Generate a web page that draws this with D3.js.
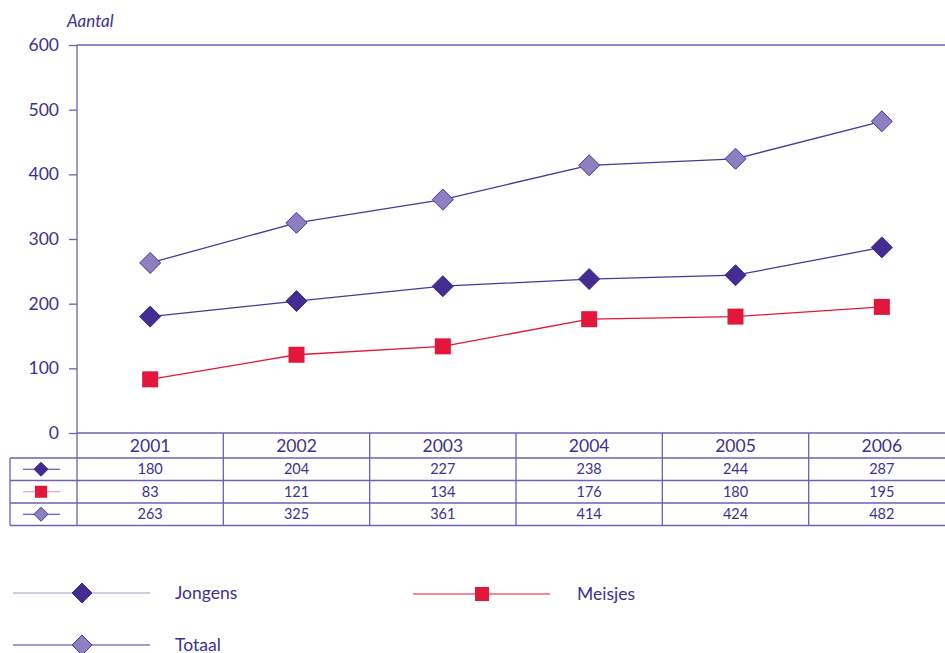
<!DOCTYPE html>
<html>
<head>
<meta charset="utf-8">
<script src="https://cdn.jsdelivr.net/npm/d3@7"></script>
<style>
  html, body { margin: 0; padding: 0; background: #fff; }
  svg { display: block; font-family: Lato, "Open Sans", sans-serif; }
</style>
</head>
<body>
<svg id="chart" width="945" height="653"></svg>
<script>
// Aantal per jaar
const years = ["2001", "2002", "2003", "2004", "2005", "2006"];
const jongens = [180, 204, 227, 238, 244, 287];
const meisjes = [83, 121, 134, 176, 180, 195];
const totaal = [263, 325, 361, 414, 424, 482];
const yTicks = [0, 100, 200, 300, 400, 500, 600];

const ink = "#40308f";
const gridInk = "#6f5fb5";
const red = "#e3173a";

const series = [
  { name: "Jongens", values: jongens, shape: "diamond", fill: "#452c92", stroke: "#3d2a8a", line: "#4a36a0", legendLine: "#a597cf" },
  { name: "Meisjes", values: meisjes, shape: "square", fill: red, stroke: red, line: red, legendLine: red },
  { name: "Totaal", values: totaal, shape: "diamond", fill: "#8e7fc0", stroke: "#4a36a0", line: "#4a36a0", legendLine: "#4a36a0" }
];

const svg = d3.select("#chart");
const plotLeft = 77, plotTop = 45, plotBottom = 433, plotRight = 955;

const x = d3.scaleBand().domain(years).range([plotLeft, plotRight]);
const y = d3.scaleLinear().domain([0, 600]).range([plotBottom, plotTop]);

// y axis
const yAxis = svg.append("g")
  .attr("transform", `translate(${plotLeft},0)`)
  .call(d3.axisLeft(y).tickValues(yTicks).tickSize(8).tickPadding(10));
yAxis.select(".domain").attr("stroke", gridInk).attr("stroke-width", 1.3).attr("d", `M0,${plotTop}V${plotBottom}`);
yAxis.selectAll(".tick line").attr("stroke", gridInk).attr("stroke-width", 1.3);
yAxis.selectAll(".tick text").attr("fill", ink).attr("font-size", 17.5).attr("font-family", "Lato, sans-serif");

// top frame line
svg.append("line").attr("x1", plotLeft).attr("x2", 945).attr("y1", y(600)).attr("y2", y(600))
  .attr("stroke", gridInk).attr("stroke-width", 1.3);

svg.append("text").attr("x", 67).attr("y", 27).attr("fill", ink)
  .attr("font-size", 17).attr("font-style", "italic").text("Aantal");

// markers
function marker(g, shape, cx, cy, s, fill, stroke) {
  if (shape === "diamond") {
    const r = s / 2;
    g.append("path").attr("d", `M${cx},${cy - r}L${cx + r},${cy}L${cx},${cy + r}L${cx - r},${cy}Z`)
      .attr("fill", fill).attr("stroke", stroke).attr("stroke-width", 1);
  } else {
    g.append("rect").attr("x", cx - s / 2).attr("y", cy - s / 2).attr("width", s).attr("height", s)
      .attr("fill", fill);
  }
}

const line = d3.line().x((d, i) => x(years[i]) + x.bandwidth() / 2).y(d => y(d));
const plot = svg.append("g");
series.forEach(s => {
  plot.append("path").datum(s.values).attr("d", line)
    .attr("fill", "none").attr("stroke", s.line).attr("stroke-width", 1.3);
});
series.forEach(s => {
  s.values.forEach((v, i) => {
    marker(plot, s.shape, x(years[i]) + x.bandwidth() / 2, y(v), s.shape === "diamond" ? 21 : 16, s.fill, s.stroke);
  });
});

// data table
const rowsY = [433, 458, 480.5, 503, 525.5];
const tableLeft = 10;
const tg = svg.append("g").attr("stroke", gridInk).attr("stroke-width", 1.3);
tg.append("line").attr("x1", plotLeft).attr("x2", 945).attr("y1", rowsY[0]).attr("y2", rowsY[0]);
for (let r = 1; r < rowsY.length; r++) {
  tg.append("line").attr("x1", tableLeft).attr("x2", 945).attr("y1", rowsY[r]).attr("y2", rowsY[r]);
}
tg.append("line").attr("x1", tableLeft).attr("x2", tableLeft).attr("y1", rowsY[1]).attr("y2", rowsY[4]);
years.forEach(yr => {
  tg.append("line").attr("x1", x(yr)).attr("x2", x(yr)).attr("y1", rowsY[0]).attr("y2", rowsY[4]);
});

svg.append("g").selectAll("text").data(years).join("text")
  .attr("x", d => x(d) + x.bandwidth() / 2).attr("y", 452)
  .attr("text-anchor", "middle").attr("fill", ink).attr("font-size", 17.5).text(d => d);

series.forEach((s, r) => {
  const cy = (rowsY[r + 1] + rowsY[r + 2]) / 2;
  svg.append("line").attr("x1", 23).attr("x2", 60).attr("y1", cy).attr("y2", cy)
    .attr("stroke", s.shape === "square" ? "#ef8a9b" : s.line).attr("stroke-width", 1.2);
  marker(svg, s.shape, 41, cy, s.shape === "diamond" ? 14 : 12, s.fill, s.stroke);
  svg.append("g").selectAll("text").data(s.values).join("text")
    .attr("x", (d, i) => x(years[i]) + x.bandwidth() / 2).attr("y", cy + 5)
    .attr("text-anchor", "middle").attr("fill", ink).attr("font-size", 14.5).text(d => d);
});

// legend
const legendPos = [
  { x1: 13, x2: 150, mx: 82, y: 593, tx: 175 },
  { x1: 413, x2: 550, mx: 482, y: 594, tx: 577 },
  { x1: 13, x2: 150, mx: 82, y: 645, tx: 175 }
];
series.forEach((s, i) => {
  const p = legendPos[i];
  svg.append("line").attr("x1", p.x1).attr("x2", p.x2).attr("y1", p.y).attr("y2", p.y)
    .attr("stroke", s.legendLine).attr("stroke-width", 1.2);
  marker(svg, s.shape, p.mx, p.y, s.shape === "diamond" ? 20 : 14, s.fill, s.stroke);
  svg.append("text").attr("x", p.tx).attr("y", p.y + 6).attr("fill", ink)
    .attr("font-size", 17.5).text(s.name);
});
</script>
</body>
</html>
